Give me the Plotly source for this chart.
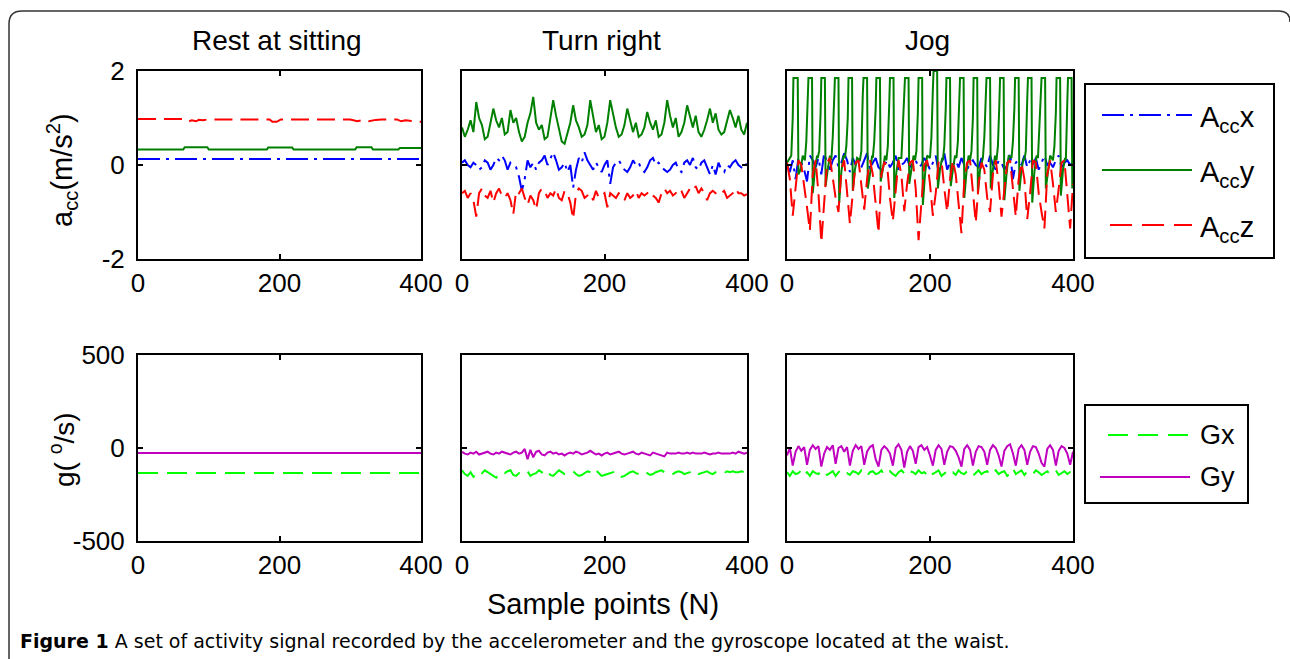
import numpy as np
import plotly.graph_objects as go

W, H = 1290, 659

titles = ["Rest at sitting", "Turn right", "Jog"]
x_ticks = [0, 200, 400]
acc_ticks = [-2, 0, 2]
acc_tick_text = ["-2", "0", "2"]
gyro_ticks = [-500, 0, 500]
gyro_tick_text = ["-500", "0", "500"]

# ---------------- Rest at sitting ----------------
rest_accx_x = [0, 400]
rest_accx_y = [0.13, 0.13]
rest_accy_x = [0, 64, 66, 98, 100, 182, 184, 218, 220, 307, 309, 330, 332, 368, 370, 400]
rest_accy_y = [0.33, 0.33, 0.38, 0.38, 0.33, 0.33, 0.37, 0.37, 0.33, 0.33, 0.38, 0.38, 0.33, 0.33, 0.36, 0.36]
rest_accz_x = [0, 68, 72, 76, 82, 86, 92, 98, 186, 190, 196, 202, 300, 310, 318, 326, 336, 344, 366, 372, 378, 390, 400]
rest_accz_y = [0.98, 0.98, 0.93, 0.95, 0.93, 0.96, 0.95, 0.97, 0.97, 0.92, 0.92, 0.97, 0.97, 0.93, 0.96, 0.93, 0.96, 0.97, 0.97, 0.93, 0.95, 0.93, 0.92]
rest_gx_x = [0, 400]
rest_gx_y = [-134, -134]
rest_gy_x = [0, 400]
rest_gy_y = [-27, -27]

# ---------------- Turn right (uniform sampling 0..400) ----------------
turn_accx = [0.05, 0.1, 0.0, -0.05, 0.05, 0.0, -0.1, -0.05, 0.1, 0.05, -0.1, 0.0, 0.15, 0.1, 0.2, 0.1, -0.1,
             0.05, 0.0, -0.05, -0.25, -0.55, -0.3, 0.1, -0.05, 0.05, -0.1, 0.05, 0.1, 0.2, 0.0, 0.15, 0.27,
             0.1, -0.1, -0.05, 0.05, -0.15, 0.0, -0.48, -0.1, 0.15, 0.05, 0.27, 0.1, 0.0, -0.1, 0.05, -0.05,
             -0.15, 0.0, 0.1, -0.4, -0.05, 0.05, 0.1, 0.0, -0.1, -0.15, -0.05, 0.1, 0.0, 0.05, -0.1, -0.15,
             -0.05, 0.1, 0.15, 0.0, 0.05, -0.05, -0.1, -0.15, -0.1, 0.0, 0.05, -0.1, -0.15, 0.05, 0.1, 0.0,
             0.15, -0.05, -0.1, 0.05, 0.1, -0.05, -0.2, 0.0, -0.2, 0.05, -0.1, -0.15, 0.0, -0.05, 0.05, 0.1,
             0.0, -0.05, 0.05, 0.0]
turn_accy = [0.8, 0.6, 0.75, 0.95, 0.7, 1.34, 1.0, 0.85, 0.55, 0.6, 0.9, 1.2, 0.95, 0.8, 1.0, 0.65, 0.7,
             1.17, 0.9, 1.0, 0.7, 0.5, 0.6, 0.9, 1.1, 1.45, 0.9, 0.75, 0.85, 0.55, 0.6, 0.95, 1.38, 1.05,
             0.75, 0.5, 0.45, 0.65, 0.9, 1.27, 0.95, 0.8, 0.6, 0.65, 0.85, 1.38, 1.0, 0.7, 0.85, 0.55, 0.6,
             0.9, 1.38, 1.1, 0.8, 0.6, 0.65, 0.85, 1.2, 0.95, 0.7, 0.9, 0.6, 0.65, 0.8, 1.13, 0.9, 0.75,
             0.95, 0.6, 0.65, 0.9, 1.38, 1.05, 0.8, 1.0, 0.6, 0.7, 0.9, 1.27, 1.0, 0.8, 1.05, 0.7, 0.6, 0.75,
             0.95, 1.2, 0.9, 1.1, 0.75, 0.65, 0.7, 0.95, 1.17, 1.0, 0.8, 1.05, 0.75, 0.65, 0.9]
turn_accz = [-0.6, -0.55, -0.7, -0.6, -0.75, -1.1, -0.6, -0.5, -0.65, -0.7, -0.55, -0.8, -0.6, -0.5, -0.65,
             -0.7, -0.6, -0.75, -1.05, -0.55, -0.6, -0.5, -0.7, -0.85, -0.65, -0.75, -0.95, -0.6, -0.5, -0.55,
             -0.7, -0.6, -0.65, -0.5, -0.7, -0.75, -0.55, -0.6, -0.8, -1.15, -0.6, -0.5, -0.55, -0.7, -0.65,
             -0.6, -0.75, -0.55, -0.7, -0.65, -0.6, -0.9, -0.6, -0.65, -0.7, -0.6, -0.65, -0.75, -0.6, -0.7,
             -0.65, -0.55, -0.7, -0.6, -0.65, -0.6, -0.55, -0.65, -0.7, -0.8, -0.6, -0.5, -0.6, -0.55, -0.65,
             -0.6, -0.5, -0.55, -0.7, -0.6, -0.5, -0.55, -0.45, -0.6, -0.5, -0.6, -0.75, -0.6, -0.55, -0.6,
             -0.65, -0.6, -0.55, -0.7, -0.65, -0.6, -0.5, -0.6, -0.6, -0.65, -0.62]
turn_gx = [-120, -140, -150, -130, -155, -140, -125, -135, -120, -130, -140, -150, -160, -140, -130, -135,
           -125, -120, -145, -150, -135, -140, -130, -125, -150, -140, -135, -120, -130, -140, -125, -145,
           -150, -135, -120, -130, -140, -135, -130, -125, -140, -150, -145, -135, -125, -130, -140, -120,
           -135, -150, -145, -140, -135, -130, -125, -140, -155, -150, -140, -130, -125, -135, -140, -130,
           -125, -135, -145, -140, -130, -125, -120, -130, -140, -145, -140, -130, -125, -130, -140, -135,
           -130, -120, -130, -140, -135, -130, -125, -135, -140, -130, -125, -130, -135, -125, -130, -125,
           -130, -130, -125, -130, -130]
turn_gy = [-20, -30, -35, -25, -30, -20, -35, -30, -25, -20, -30, -35, -25, -30, -20, -25, -30, -35, -25,
           -20, -30, -25, -5, -60, -10, -50, -20, -15, -35, -40, -25, -20, -30, -25, -35, -30, -40, -30,
           -25, -30, -20, -25, -35, -30, -25, -15, -25, -35, -30, -40, -30, -25, -35, -30, -25, -20, -30,
           -35, -30, -25, -20, -30, -35, -25, -30, -35, -40, -25, -30, -35, -40, -45, -25, -30, -30, -30,
           -25, -30, -30, -25, -30, -25, -30, -30, -30, -25, -30, -35, -30, -30, -25, -30, -30, -30, -30,
           -25, -30, -20, -25, -30, -25]

# ---------------- Jog ----------------
jog_accx = [0.0, -0.15, 0.1, -0.3, 0.15, 0.05, -0.1, -0.35, 0.2, 0.1, -0.05, 0.15, -0.2, 0.25, 0.05, -0.1,
            0.1, 0.2, -0.05, 0.05, 0.25, 0.1, -0.15, 0.15, 0.0, 0.2, -0.05, 0.1, 0.25, -0.1, 0.05, 0.15,
            -0.05, -0.1, 0.0, 0.1, -0.05, 0.05, 0.2, -0.1, 0.0, 0.05, 0.15, -0.05, 0.05, 0.1, -0.05, 0.0,
            0.15, 0.05, -0.1, 0.05, 0.2, -0.15, 0.05, 0.25, -0.1, 0.05, 0.0, 0.1, -0.05, 0.15, 0.0, -0.1,
            0.05, 0.1, 0.0, -0.05, 0.15, 0.05, -0.05, 0.2, 0.0, -0.1, 0.1, 0.05, -0.1, 0.0, 0.25, -0.3,
            0.05, 0.1, 0.0, 0.2, -0.05, 0.1, 0.0, 0.15, -0.1, 0.05, 0.2, 0.0, 0.05, -0.05, 0.1, 0.2, -0.05,
            0.05, 0.1, 0.0, 0.05]
jog_accy_x = [0, 4, 6, 8, 9, 15, 16, 19, 22,
              25, 27, 29, 30, 35, 36, 39, 42,
              43, 45, 47, 48, 53, 54, 57, 60,
              62, 64, 66, 67, 72, 73, 76, 79,
              81, 83, 85, 86, 91, 92, 95, 98,
              102, 104, 106, 107, 112, 113, 116, 119,
              120, 122, 124, 125, 130, 131, 134, 137,
              139, 141, 143, 144, 149, 150, 153, 156,
              160, 162, 164, 165, 170, 171, 174, 177,
              179, 181, 183, 184, 189, 190, 193, 196,
              200, 202, 204, 205, 210, 211, 214, 217,
              218, 220, 222, 223, 228, 229, 232, 235,
              237, 239, 241, 242, 247, 248, 251, 254,
              256, 258, 260, 261, 266, 267, 270, 273,
              274, 276, 278, 279, 284, 285, 288, 291,
              293, 295, 297, 298, 303, 304, 307, 310,
              314, 316, 318, 319, 324, 325, 328, 331,
              332, 334, 336, 337, 342, 343, 346, 349,
              351, 353, 355, 356, 361, 362, 365, 368,
              372, 374, 376, 377, 382, 383, 386, 389,
              390, 391, 392, 393, 398, 399, 400]
jog_accy_y = [0.05, 0.15, 0.2, 1.0, 1.85, 1.85, -0.2, -0.1, 0.2,
              0.1, 0.5, 1.4, 1.85, 1.85, -0.6, -0.1, 0.2,
              0.15, 0.3, 1.1, 1.85, 1.85, -0.45, -0.1, 0.2,
              0.1, 0.6, 1.4, 1.85, 1.85, -0.8, -0.15, 0.2,
              0.15, 0.4, 1.0, 1.85, 1.85, -0.55, -0.1, 0.15,
              0.1, 0.3, 1.5, 1.85, 1.85, -0.5, -0.2, 0.2,
              0.15, 0.5, 1.2, 1.85, 1.85, -0.35, -0.1, 0.2,
              0.1, 0.4, 1.3, 1.85, 1.85, -0.7, -0.15, 0.15,
              0.15, 0.7, 1.5, 1.85, 1.85, -0.4, -0.1, 0.2,
              0.1, 0.3, 1.1, 1.85, 1.85, -0.85, -0.2, 0.2,
              0.15, 0.6, 1.6, 2.0, 2.0, -0.5, -0.1, 0.15,
              0.1, 0.4, 1.2, 1.85, 1.85, -0.45, -0.1, 0.2,
              0.15, 0.5, 1.4, 1.85, 1.85, -0.7, -0.15, 0.2,
              0.1, 0.3, 1.0, 1.85, 1.85, -0.6, -0.1, 0.15,
              0.15, 0.6, 1.5, 1.85, 1.85, -0.5, -0.1, 0.2,
              0.1, 0.4, 1.3, 1.85, 1.85, -0.75, -0.2, 0.2,
              0.15, 0.5, 1.2, 1.85, 1.85, -0.55, -0.1, 0.15,
              0.1, 0.3, 1.4, 1.85, 1.85, -0.8, -0.15, 0.2,
              0.15, 0.7, 1.5, 1.85, 1.85, -0.5, -0.1, 0.2,
              0.1, 0.4, 1.1, 1.85, 1.85, -0.65, -0.1, 0.15,
              0.1, 0.5, 1.3, 1.85, 1.85, -0.5, -0.3]
jog_accz = [0.05, -0.3, -1.08, -0.5, 0.1, 0.0, -0.4, -0.9, -1.4, -0.2, 0.1, -0.6, -1.65, -0.8, 0.05, 0.15,
            -0.3, -0.7, -1.0, -0.1, 0.1, -0.5, -1.25, -0.6, 0.05, 0.1, -0.4, -0.95, -0.3, 0.1, -0.2, -0.8,
            -1.45, -0.2, 0.05, 0.0, -0.7, -1.2, -0.5, 0.1, -0.2, -0.98, -0.4, 0.05, 0.1, -0.5, -1.6, -0.7,
            0.0, 0.1, -0.4, -1.08, -0.6, 0.05, 0.1, -0.5, -1.0, -0.3, 0.1, -0.2, -0.9, -1.45, -0.3, 0.05,
            0.1, -0.6, -1.23, -0.4, 0.05, -0.1, -0.7, -1.0, -0.2, 0.1, -0.4, -1.1, -0.5, 0.05, 0.1, -0.5,
            -1.1, -0.3, 0.05, -0.3, -1.15, -0.6, 0.1, 0.05, -0.6, -1.0, -1.35, -0.2, 0.1, -0.4, -1.0, -0.5,
            0.05, 0.1, -0.6, -1.35, -0.4]
jog_gx = [-130, -150, -125, -140, -135, -120, -145, -130, -150, -125, -135, -140, -120, -130, -145, -135,
          -125, -150, -130, -120, -140, -135, -145, -125, -130, -140, -120, -135, -150, -130, -125, -140,
          -135, -120, -145, -130, -125, -140, -150, -130, -120, -135, -145, -125, -130, -140, -120, -135,
          -130, -145, -125, -140, -130, -120, -150, -135, -125, -140, -130, -145, -120, -135, -140, -125,
          -130, -150, -135, -120, -140, -130, -125, -145, -135, -120, -140, -130, -125, -150, -135, -110,
          -140, -130, -120, -145, -125, -135, -140, -120, -130, -145, -135, -125, -140, -130, -120, -145,
          -135, -125, -140, -130, -135]
jog_gy = [-40, 0, -95, -20, 10, -15, 5, -90, -10, 15, -5, 10, -100, -30, 5, -10, 15, -85, 0, 10, -20, 5,
          -95, -15, 15, -5, 10, -90, -20, 5, 15, -60, -100, -10, 10, -5, -30, -95, 0, 20, -10, -105, -20,
          10, -15, -85, 5, 15, -10, 5, -40, -95, -10, 15, -5, -90, -20, 10, 5, -15, -50, -100, -5, 15, -10,
          -95, -20, 10, 5, -20, -90, -10, 15, 0, -40, -100, -15, 10, 20, -30, -95, -5, 15, -10, -90, -20,
          10, 5, -30, -80, -100, -5, 15, -10, -95, -15, 10, 0, -30, -90, -20]

# ---------------- styles ----------------
BLUE, GREEN, RED = "#0000ff", "#008000", "#ff0000"
LGREEN, MAGENTA = "#00ff00", "#bf00bf"
DASHDOT = "22px,6px,3px,6px"
DASH = "18px,8px"
GDASH = "20px,9px"
FONT = "Liberation Sans"


def grid(vals):
    return np.linspace(0, 400, len(vals))


fig = go.Figure()


def add(x, y, color, dash, ax):
    fig.add_trace(go.Scatter(x=x, y=y, mode="lines", showlegend=False, hoverinfo="skip",
                             line=dict(color=color, width=2, dash=dash),
                             xaxis="x" + ax, yaxis="y" + ax))


# top row: accelerometer
add(rest_accx_x, rest_accx_y, BLUE, DASHDOT, "")
add(rest_accy_x, rest_accy_y, GREEN, "solid", "")
add(rest_accz_x, rest_accz_y, RED, DASH, "")
add(grid(turn_accx), turn_accx, BLUE, DASHDOT, "2")
add(grid(turn_accy), turn_accy, GREEN, "solid", "2")
add(grid(turn_accz), turn_accz, RED, DASH, "2")
add(grid(jog_accx), jog_accx, BLUE, DASHDOT, "3")
add(jog_accy_x, jog_accy_y, GREEN, "solid", "3")
add(grid(jog_accz), jog_accz, RED, DASH, "3")
# bottom row: gyroscope
add(rest_gx_x, rest_gx_y, LGREEN, GDASH, "4")
add(rest_gy_x, rest_gy_y, MAGENTA, "solid", "4")
add(grid(turn_gx), turn_gx, LGREEN, GDASH, "5")
add(grid(turn_gy), turn_gy, MAGENTA, "solid", "5")
add(grid(jog_gx), jog_gx, LGREEN, GDASH, "6")
add(grid(jog_gy), jog_gy, MAGENTA, "solid", "6")

# panel pixel boxes
cols = [(138, 421), (462, 747), (787, 1073)]
rows = [(71, 259), (355, 541)]

layout = dict(template="none", width=W, height=H,
              margin=dict(l=0, r=0, t=0, b=0, pad=0, autoexpand=False),
              paper_bgcolor="white", plot_bgcolor="white", showlegend=False,
              font=dict(family=FONT, size=26, color="black"))

axis_common = dict(showline=True, linecolor="black", linewidth=2, mirror="ticks",
                   ticks="inside", ticklen=5, tickwidth=2, tickcolor="black",
                   showgrid=False, zeroline=False, automargin=False,
                   tickfont=dict(family=FONT, size=26, color="black"))

k = 0
for r, (yt, yb) in enumerate(rows):
    for c, (xl, xr) in enumerate(cols):
        k += 1
        sfx = "" if k == 1 else str(k)
        layout["xaxis" + sfx] = dict(axis_common, domain=[xl / W, xr / W], range=[0, 400],
                                     tickvals=x_ticks, ticktext=[str(v) for v in x_ticks],
                                     anchor="y" + sfx, ticklabelstandoff=0)
        ticks = acc_ticks if r == 0 else gyro_ticks
        ttext = acc_tick_text if r == 0 else gyro_tick_text
        rng = [-2, 2] if r == 0 else [-500, 500]
        layout["yaxis" + sfx] = dict(axis_common, domain=[1 - yb / H, 1 - yt / H], range=rng,
                                     tickvals=ticks, ticktext=ttext, anchor="x" + sfx,
                                     showticklabels=(c == 0), ticklabelstandoff=6)

fig.update_layout(**layout)


def px(x):
    return x / W


def py(y):
    return 1 - y / H


def note(x, y, text, size=27, family=FONT, **kw):
    d = dict(xref="paper", yref="paper", x=px(x), y=py(y), text=text, showarrow=False,
             xanchor="center", yanchor="middle",
             font=dict(size=size, family=family, color="black"))
    d.update(kw)
    return d


ann = []
for (xl, xr), t in zip(cols, titles):
    ann.append(note((xl + xr) / 2 - 3, 40, t, size=28))
ann.append(note(62, 170, "a<sub>cc</sub>(m/s<sup>2</sup>)", size=29, textangle=-90))
ann.append(note(62, 450, "g( <sup>o</sup>/s)", size=28, textangle=-90))
ann.append(note(603, 604, "Sample points (N)", size=29))
ann.append(note(18, 641, "<b>Figure 1</b> A set of activity signal recorded by the accelerometer and the gyroscope located at the waist.",
                size=19, family="DejaVu Sans", xanchor="left"))

# legend texts
for t, y in [("A<sub>cc</sub>x", 115), ("A<sub>cc</sub>y", 170), ("A<sub>cc</sub>z", 225)]:
    ann.append(note(1198, y + 4, t, size=29, xanchor="left"))
for t, y in [("Gx", 435), ("Gy", 477)]:
    ann.append(note(1198, y, t, xanchor="left"))

shapes = []
shapes.append(dict(type="rect", xref="paper", yref="paper", x0=px(1085), x1=px(1274), y0=py(258), y1=py(84),
                   line=dict(color="black", width=2), fillcolor="white", layer="below"))
shapes.append(dict(type="rect", xref="paper", yref="paper", x0=px(1085), x1=px(1248), y0=py(503), y1=py(405),
                   line=dict(color="black", width=2), fillcolor="white", layer="below"))
for (x0, x1, y, col, dash) in [(1102, 1192, 115, BLUE, DASHDOT), (1102, 1192, 170, GREEN, "solid"),
                               (1110, 1192, 225, RED, "22px,10px"), (1108, 1190, 435, LGREEN, "20px,10px"),
                               (1100, 1190, 477, MAGENTA, "solid")]:
    shapes.append(dict(type="line", xref="paper", yref="paper", x0=px(x0), x1=px(x1), y0=py(y), y1=py(y),
                       line=dict(color=col, width=2, dash=dash)))
path = "M {:.5f},{:.5f} L {:.5f},{:.5f} Q {:.5f},{:.5f} {:.5f},{:.5f} L {:.5f},{:.5f} Q {:.5f},{:.5f} {:.5f},{:.5f}".format(
    px(9), py(662), px(9), py(24), px(9), py(11), px(22), py(11), px(1279), py(11), px(1290), py(11), px(1290), py(22))
shapes.append(dict(type="path", xref="paper", yref="paper", path=path, line=dict(color="#333333", width=1.5)))

fig.update_layout(annotations=ann, shapes=shapes)
fig.write_html("out.html")
